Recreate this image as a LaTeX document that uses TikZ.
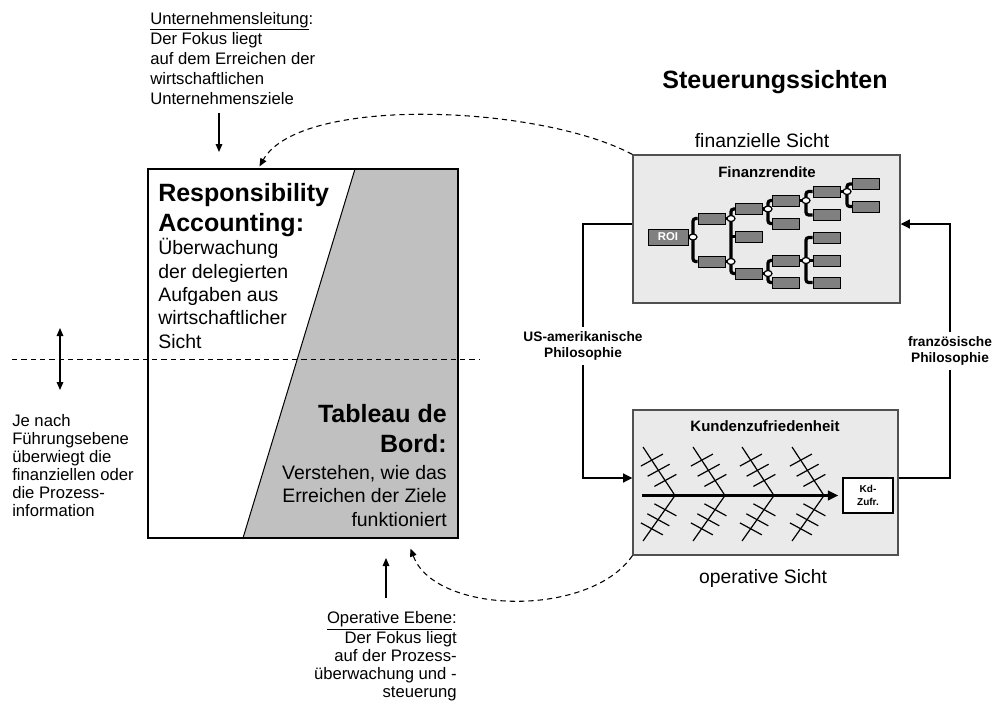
\documentclass[tikz,border=0pt]{standalone}
\usepackage{fontspec}
\setmainfont{Liberation Sans}
\usetikzlibrary{arrows.meta,shapes.geometric,fit,calc}
\definecolor{boxgrey}{HTML}{C0C0C0}
\definecolor{panel}{HTML}{EAEAEA}
\definecolor{leafgrey}{HTML}{808080}
\definecolor{framegrey}{HTML}{505050}
\begin{document}
\begin{tikzpicture}[x=0.75pt,y=-0.75pt,
  smalltxt/.style={inner sep=0, font=\fontsize{12.5}{13.5}\selectfont},
  boxtitle/.style={inner sep=0, font=\bfseries\fontsize{18.75}{22.5}\selectfont},
  boxbody/.style={inner sep=0, font=\fontsize{14.6}{17.5}\selectfont},
  viewlab/.style={inner sep=0, font=\fontsize{14.5}{17}\selectfont},
  paneltitle/.style={inner sep=0, font=\bfseries\fontsize{11.25}{13}\selectfont},
  philo/.style={inner sep=3pt, fill=white, align=center, font=\bfseries\fontsize{10.3}{12.5}\selectfont},
  panelbox/.style={draw=framegrey, fill=panel, line width=0.8pt, inner sep=0},
  leaf/.style={draw=black, fill=leafgrey, line width=0.6pt, minimum width=20.25pt, minimum height=8.25pt, inner sep=0},
  jn/.style={ellipse, draw=black, fill=white, line width=0.9pt, minimum width=6pt, minimum height=4.5pt, inner sep=0},
  tree/.style={line width=2.4pt, rounded corners=2pt},
  bone/.style={line width=0.9pt},
  conn/.style={line width=2.2pt, -{Triangle[length=7pt,width=6.5pt]}},
  dcurve/.style={line width=0.8pt, dash pattern=on 4pt off 3pt, -{Triangle[length=6pt,width=5pt]}},
  plainarrow/.style={line width=0.8pt, -{Triangle[length=6pt,width=5pt]}},
  dblarrow/.style={line width=0.8pt, {Triangle[length=6pt,width=5pt]}-{Triangle[length=6pt,width=5pt]}}
]
\useasboundingbox (0,0) rectangle (993,704);

% ---------- left box ----------
\fill[boxgrey] (355,169) -- (458,169) -- (458,538) -- (243,538) -- cycle;
\draw[line width=0.75pt] (355,169) -- (243,538);
\node[draw=black, line width=0.8pt, inner sep=0, fit={(148,169) (458,538)}] (rbox) {};

% (base anchor of a multi-line node = baseline of its last line)
\node[boxtitle, anchor=base west, align=left] (ratitle) at (158,231) {Responsibility\\Accounting:};
\node[boxbody, anchor=base west, align=left] (rabody) at (158,348) {Überwachung\\der delegierten\\Aufgaben aus\\wirtschaftlicher\\Sicht};
\node[boxtitle, anchor=base east, align=right] (tbtitle) at (447,452) {Tableau de\\Bord:};
\node[boxbody, anchor=base east, align=right] (tbbody) at (447,526) {Verstehen, wie das\\Erreichen der Ziele\\funktioniert};

% dashed level line
\coordinate (dl1) at (12,359);
\coordinate (dl2) at (480,359);
\draw[line width=0.75pt, dash pattern=on 4pt off 3pt] (dl1) -- (dl2);

% ---------- texts left ----------
\node[smalltxt, anchor=base west, align=left, font=\fontsize{12.5}{15}\selectfont] (uleit) at (150,104)
  {\underline{Unternehmensleitung}:\\Der Fokus liegt\\auf dem Erreichen der\\wirtschaftlichen\\Unternehmensziele};
\coordinate (ua1) at (219,113);
\coordinate (ua2) at (219,152);
\draw[plainarrow] (ua1) -- (ua2);

\node[smalltxt, anchor=base west, align=left] (jenach) at (12,516)
  {Je nach\\Führungsebene\\überwiegt die\\finanziellen oder\\die Prozess-\\information};
\coordinate (da1) at (60,328);
\coordinate (da2) at (60,390);
\draw[dblarrow] (da1) -- (da2);

\node[smalltxt, anchor=base east, align=right] (opebene) at (457,697)
  {\underline{Operative Ebene}:\\Der Fokus liegt\\auf der Prozess-\\überwachung und -\\steuerung};
\coordinate (oa1) at (386,598);
\coordinate (oa2) at (386,558);
\draw[plainarrow] (oa1) -- (oa2);

% ---------- right side ----------
\node[inner sep=0, anchor=base, font=\bfseries\fontsize{18.75}{22}\selectfont] (steu) at (775,88) {Steuerungssichten};
\node[viewlab, anchor=base] (finlab) at (762,147) {finanzielle Sicht};
\node[panelbox, fit={(633,155) (900,303)}] (fin) {};
\node[viewlab, anchor=base] (oplab) at (763,583) {operative Sicht};
\node[panelbox, fit={(633,410) (898,555)}] (op) {};

\node[paneltitle, anchor=base] (frtitle) at (767,177) {Finanzrendite};
\node[paneltitle, anchor=base] (kztitle) at (765,431) {Kundenzufriedenheit};

% ---------- ROI tree ----------
\node[leaf, minimum width=30pt, minimum height=12pt, text=white, font=\bfseries\fontsize{8.5}{9}\selectfont] (roi) at (668,237) {ROI};
\node[leaf] (A) at (711.5,218.5) {};
\node[leaf] (B) at (711.5,261.5) {};
\node[leaf] (C) at (749,209) {};
\node[leaf] (D) at (749,236.5) {};
\node[leaf] (E) at (749,273.5) {};
\node[leaf] (F) at (786,200.5) {};
\node[leaf] (G) at (786,223.5) {};
\node[leaf] (H) at (786,260.5) {};
\node[leaf] (I) at (786,282.5) {};
\node[leaf] (J) at (826.5,191.5) {};
\node[leaf] (K) at (826.5,215) {};
\node[leaf] (L) at (826.5,237.5) {};
\node[leaf] (M) at (826.5,260.5) {};
\node[leaf] (N) at (826.5,282.5) {};
\node[leaf] (O) at (866,184) {};
\node[leaf] (P) at (866,206.5) {};

\draw[tree] (A.west) -| (693,237) |- (B.west);
\draw[tree] (roi.east) -- (693,237);
\draw[tree] (C.west) -| (731,236.5) |- (E.west);
\draw[tree] (D.west) -- (731,236.5);
\draw[tree] (A.east) -- (731,218.5);
\draw[tree] (B.east) -- (731,261.5);
\draw[tree] (F.west) -| (768,209) |- (G.west);
\draw[tree] (C.east) -- (768,209);
\draw[tree] (H.west) -| (768,273.5) |- (I.west);
\draw[tree] (E.east) -- (768,273.5);
\draw[tree] (J.west) -| (806,200.5) |- (K.west);
\draw[tree] (F.east) -- (806,200.5);
\draw[tree] (L.west) -| (806,260.5) |- (N.west);
\draw[tree] (M.west) -- (806,260.5);
\draw[tree] (H.east) -- (806,260.5);
\draw[tree] (O.west) -| (847,191.5) |- (P.west);
\draw[tree] (J.east) -- (847,191.5);

\node[jn] (j1) at (693,237) {};
\node[jn] (j2) at (731,218.5) {};
\node[jn] (j3) at (731,261.5) {};
\node[jn] (j4) at (768,209) {};
\node[jn] (j5) at (768,273.5) {};
\node[jn] (j6) at (806,200.5) {};
\node[jn] (j7) at (806,260.5) {};
\node[jn] (j8) at (847,191.5) {};

% ---------- fishbone ----------
\node[draw=black, fill=white, line width=0.8pt, inner sep=0, fit={(843,478) (893,513)}] (kd) {};
\node[inner sep=0, align=center, font=\bfseries\fontsize{7.5}{10}\selectfont] (kdtxt) at (kd.center) {Kd-\\Zufr.};
\coordinate (spine) at (642,495.5);
\draw[line width=2.4pt, -{Triangle[length=8pt,width=7pt]}] (spine) -- ([xshift=-3pt]kd.west);
\foreach \x in {675,725,774,824} {
  \draw[bone] (\x-32,447) -- (\x,495.5);
  \foreach \t in {0.31,0.52,0.73}
    \draw[bone] ({\x-32+32*\t-12},{447+48.5*\t+4}) -- ++(22,-12);
  \draw[bone] (\x,495.5) -- (\x-32,541);
  \foreach \t in {0.27,0.49,0.69}
    \draw[bone] ({\x-32*\t-12},{495.5+45.5*\t-4}) -- ++(22,12);
}

% ---------- philosophy connectors ----------
\draw[conn] ($(fin.west)+(0,-5)$) -| (583,346) |- ($(op.west)+(0,-4.5)$);
\node[philo] (us) at (583,346) {US-amerikanische\\Philosophie};
\draw[conn] ($(op.east)+(0,-4.5)$) -| (950,351) |- ($(fin.east)+(0,-5)$);
\node[philo] (fr) at (950,351) {französische\\Philosophie};

% ---------- dashed curves ----------
\draw[dcurve] (fin.north west) .. controls (540,105) and (300,95) .. ($(rbox.north west)+(112,-2)$);
\draw[dcurve] (op.south west) .. controls (590,618) and (435,615) .. ($(rbox.south east)+(-48,10)$);
\end{tikzpicture}
\end{document}
